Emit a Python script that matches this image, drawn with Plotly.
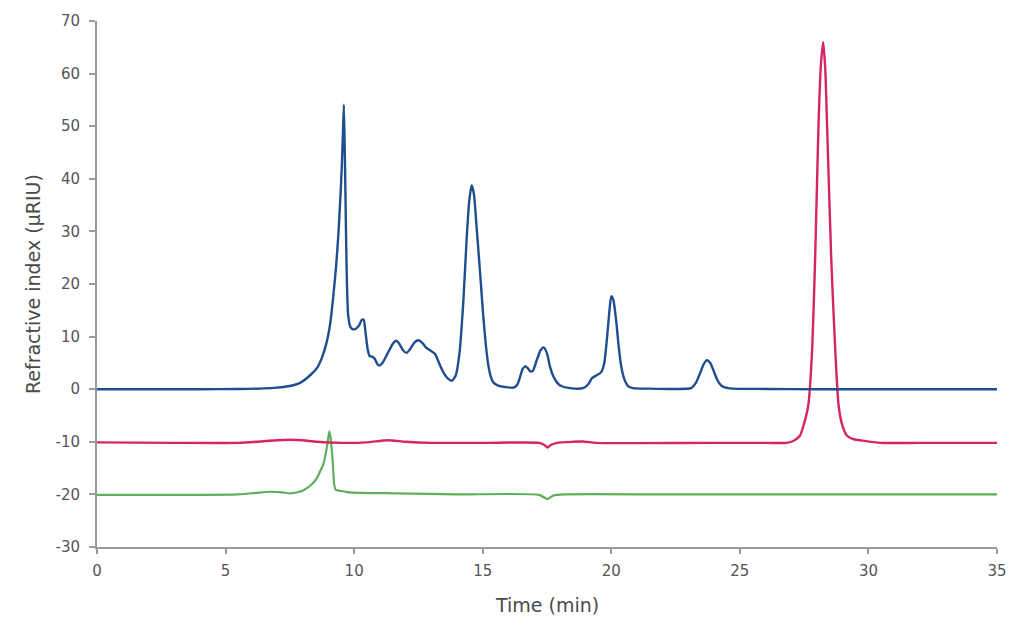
import plotly.graph_objects as go

# ---- Data ----
blue_t = [0, 2, 4, 5.5, 6.5, 7.0, 7.5, 7.9, 8.3, 8.55, 8.75, 8.93, 9.07, 9.19, 9.3, 9.39, 9.47,
          9.52, 9.56, 9.6, 9.64, 9.68, 9.72, 9.77, 9.86, 9.95, 10.07, 10.2, 10.3, 10.37, 10.45,
          10.53, 10.6, 10.7, 10.8, 10.9, 10.98, 11.1, 11.3, 11.5, 11.63, 11.75, 11.9, 12.04,
          12.2, 12.35, 12.5, 12.65, 12.8, 12.95, 13.15, 13.3, 13.47, 13.65, 13.8, 13.95, 14.1,
          14.25, 14.38, 14.48, 14.57, 14.66, 14.76, 14.9, 15.02, 15.12, 15.22, 15.32, 15.41,
          15.6, 15.9, 16.2, 16.35, 16.45, 16.55, 16.65, 16.75, 16.85, 16.95, 17.1, 17.25, 17.37,
          17.5, 17.62, 17.75, 17.9, 18.05, 18.4, 18.9, 19.1, 19.25, 19.45, 19.6, 19.72, 19.82,
          19.92, 20.0, 20.08, 20.18, 20.28, 20.38, 20.5, 20.65, 20.85, 21.5, 22.5, 23.1, 23.3,
          23.45, 23.6, 23.72, 23.85, 23.98, 24.12, 24.3, 24.6, 26, 28, 30, 32, 35]
blue_v = [0, 0, 0, 0.05, 0.15, 0.3, 0.6, 1.2, 2.7, 4.0, 6.0, 8.9, 12.5, 17.7, 23.5, 29.7, 37,
          42.3, 48, 54.1, 44, 31, 20, 14, 11.8, 11.4, 11.5, 12.2, 13.2, 13.2, 10.5,
          7.5, 6.3, 6.2, 5.8, 4.8, 4.5, 5.0, 6.8, 8.6, 9.2, 8.7, 7.4, 6.9,
          7.8, 8.9, 9.3, 8.8, 7.9, 7.4, 6.7, 5.0, 3.2, 2.0, 1.6, 2.6, 7,
          17, 29, 36, 38.8, 37, 31, 22, 14, 8.5, 4.5, 2.3, 1.3,
          0.7, 0.4, 0.3, 0.9, 2.3, 3.8, 4.35, 4.0, 3.4, 3.5, 5.5, 7.4, 7.95,
          6.8, 4.2, 2.4, 1.2, 0.6, 0.2, 0.2, 0.9, 2.1, 2.7, 3.2, 4.8, 9,
          14.5, 17.7, 17.0, 13.5, 8.5, 4.5, 2.0, 0.6, 0.2, 0.1, 0.05, 0.2, 1.3,
          3.0, 4.8, 5.5, 5.0, 3.5, 1.8, 0.6, 0.15, 0.05, 0, 0, 0, 0]

red_t = [0, 3, 5.5, 6.47, 7.0, 7.5, 8.0, 8.54, 9.5, 10.5, 11.3, 12.0, 13, 15, 17.2, 17.4,
         17.52, 17.65, 17.9, 18.5, 18.9, 19.4, 21, 24, 26, 26.82, 27.1, 27.34, 27.5, 27.66,
         27.8, 27.93, 28.06, 28.15, 28.24, 28.32, 28.39, 28.55, 28.72, 28.84, 28.98, 29.16,
         29.4, 29.68, 30.46, 32, 35]
red_v = [-10.1, -10.2, -10.2, -9.9, -9.7, -9.6, -9.7, -10.0, -10.2, -10.1, -9.7, -10.0, -10.2,
         -10.2, -10.2, -10.6, -11.1, -10.6, -10.2, -10.0, -9.95, -10.2, -10.25, -10.2, -10.2,
         -10.2, -9.8, -8.8, -6.5, -3.1, 6.4, 25.3, 50.5, 61.5, 66, 61, 50.5, 25.3, 6.4, -3.1,
         -6.8, -8.8, -9.5, -9.7, -10.2, -10.2, -10.2]

green_t = [0, 3, 5.5, 6.2, 6.73, 7.2, 7.5, 7.8, 8.03, 8.3, 8.54, 8.67, 8.8, 8.93, 9.0, 9.04,
           9.09, 9.17, 9.22, 9.28, 9.45, 9.8, 11.66, 14, 17.2, 17.52, 17.75, 18.2, 22, 26, 30, 35]
green_v = [-20.1, -20.1, -20.0, -19.7, -19.5, -19.6, -19.8, -19.6, -19.2, -18.3, -17.0, -15.7,
           -14.3, -11.3, -9.0, -8.0, -9.5, -14, -18.0, -19.1, -19.3, -19.6, -19.8, -20.0, -20.1,
           -20.9, -20.2, -20.0, -20.0, -20.0, -20.0, -20.0]

x_ticks = [0, 5, 10, 15, 20, 25, 30, 35]
y_ticks = [-30, -20, -10, 0, 10, 20, 30, 40, 50, 60, 70]
y_tick_text = ["-30", "-20", "-10", "0", "10", "20", "30", "40", "50", "60", "70"]

fig = go.Figure()
fig.add_trace(go.Scatter(x=green_t, y=green_v, mode="lines",
                         line=dict(color="#5fae5c", width=2.2, shape="spline", smoothing=0.6)))
fig.add_trace(go.Scatter(x=red_t, y=red_v, mode="lines",
                         line=dict(color="#d6265e", width=2.4, shape="spline", smoothing=0.6)))
fig.add_trace(go.Scatter(x=blue_t, y=blue_v, mode="lines",
                         line=dict(color="#1f4e8e", width=2.4, shape="spline", smoothing=0.6)))

axis_font = dict(family="DejaVu Sans", size=15, color="#555555")
title_font = dict(family="DejaVu Sans", size=19, color="#4a4a4a")
fig.update_layout(
    width=1024, height=628,
    margin=dict(l=97, r=27, t=18, b=81),
    paper_bgcolor="white", plot_bgcolor="white",
    showlegend=False,
    xaxis=dict(range=[0, 35], tickvals=x_ticks, showgrid=False, zeroline=False,
               showline=True, linecolor="#9a9a9a", linewidth=2,
               ticks="outside", ticklen=5, tickwidth=1.5, tickcolor="#9a9a9a",
               tickfont=axis_font, ticklabelstandoff=4),
    yaxis=dict(range=[-30, 70], tickvals=y_ticks, ticktext=y_tick_text,
               showgrid=False, zeroline=False,
               showline=True, linecolor="#9a9a9a", linewidth=2,
               ticks="outside", ticklen=6, tickwidth=1.5, tickcolor="#9a9a9a",
               tickfont=axis_font, ticklabelstandoff=6),
    annotations=[
        dict(text="Refractive index (µRIU)", xref="paper", yref="paper",
             x=-0.071, y=0.5, textangle=-90, showarrow=False,
             xanchor="center", yanchor="middle", font=title_font),
        dict(text="Time (min)", xref="paper", yref="paper",
             x=0.5, y=-0.11, showarrow=False,
             xanchor="center", yanchor="middle", font=title_font),
    ],
)

fig.write_html("out.html")
